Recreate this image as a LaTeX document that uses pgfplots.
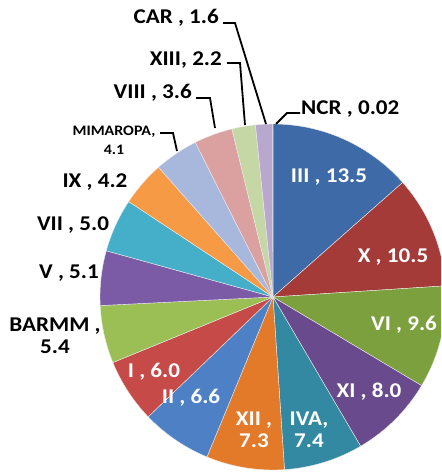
\documentclass[border=0pt]{standalone}
\usepackage{pgfplots}
\pgfplotsset{compat=1.18}
\usepackage{fontspec}
\setmainfont{Carlito}[FakeStretch=1.1]
\definecolor{cIII}{HTML}{3E6AA8}
\definecolor{cX}{HTML}{A43B38}
\definecolor{cVI}{HTML}{7DA03F}
\definecolor{cXI}{HTML}{694A8D}
\definecolor{cIVA}{HTML}{3489A2}
\definecolor{cXII}{HTML}{E27A2A}
\definecolor{cII}{HTML}{4D80C4}
\definecolor{cI}{HTML}{C64A48}
\definecolor{cBARMM}{HTML}{9BBF55}
\definecolor{cV}{HTML}{7C5BA6}
\definecolor{cVII}{HTML}{45AFC9}
\definecolor{cIX}{HTML}{F79A45}
\definecolor{cMIM}{HTML}{A8B8DC}
\definecolor{cVIII}{HTML}{DBA0A0}
\definecolor{cXIII}{HTML}{C6D7A6}
\definecolor{cCAR}{HTML}{B8A8CE}
\definecolor{cNCR}{HTML}{90C8D8}
\tikzset{
  lbl/.style={font=\fontsize{21}{22}\selectfont\bfseries, inner sep=0pt, align=center},
  win/.style={lbl, text=white},
  lead/.style={black, line width=1.8pt},
}
\def\cx{273}\def\cy{297}\def\rr{173}\def\kk{3.5957}
% slice: colour, cumulative start, cumulative end (percent units)
\newcommand\slice[3]{\addplot[fill=#1, draw=white!85!gray, line width=0.4pt, domain=#2:#3, samples=60]
  ({\cx+\rr*cos(90-\kk*x)},{\cy-\rr*sin(90-\kk*x)}) -- (axis cs:\cx,\cy) -- cycle;}
\begin{document}
\begin{tikzpicture}
\begin{axis}[
  width=441pt, height=473pt, scale only axis,
  xmin=0, xmax=441, ymin=0, ymax=473, y dir=reverse,
  hide axis, clip=true,
]
% values: III 13.5, X 10.5, VI 9.6, XI 8.0, IVA 7.4, XII 7.3, II 6.6, I 6.0,
% BARMM 5.4, V 5.1, VII 5.0, IX 4.2, MIMAROPA 4.1, VIII 3.6, XIII 2.2, CAR 1.6, NCR 0.02
\slice{cIII}{0}{13.5}
\slice{cX}{13.5}{24}
\slice{cVI}{24}{33.6}
\slice{cXI}{33.6}{41.6}
\slice{cIVA}{41.6}{49}
\slice{cXII}{49}{56.3}
\slice{cII}{56.3}{62.9}
\slice{cI}{62.9}{68.9}
\slice{cBARMM}{68.9}{74.3}
\slice{cV}{74.3}{79.4}
\slice{cVII}{79.4}{84.4}
\slice{cIX}{84.4}{88.6}
\slice{cMIM}{88.6}{92.7}
\slice{cVIII}{92.7}{96.3}
\slice{cXIII}{96.3}{98.5}
\slice{cCAR}{98.5}{100.1}
\slice{cNCR}{100.1}{100.12}
% inside labels
\node[win] at (axis cs:329,177) {III , 13.5};
\node[win] at (axis cs:393,257) {X , 10.5};
\node[win] at (axis cs:404,325) {VI , 9.6};
\node[win] at (axis cs:369,392) {XI , 8.0};
\node[win] at (axis cs:309,430) {IVA,\\7.4};
\node[win] at (axis cs:254,430) {XII ,\\7.3};
\node[win] at (axis cs:191,398) {II , 6.6};
\node[win] at (axis cs:154,372) {I , 6.0};
% outside labels
\node[lbl] at (axis cs:55,336) {BARMM ,\\5.4};
\node[lbl] at (axis cs:69,273) {V , 5.1};
\node[lbl] at (axis cs:73,225) {VII , 5.0};
\node[lbl] at (axis cs:95,182) {IX , 4.2};
\node[lbl, font=\fontsize{14.5}{19}\selectfont\bfseries] at (axis cs:114,140) {MIMAROPA,\\4.1};
\node[lbl, anchor=east] at (axis cs:192,93) {VIII , 3.6};
\node[lbl, anchor=east] at (axis cs:222,60) {XIII, 2.2};
\node[lbl, anchor=east] at (axis cs:219,18) {CAR , 1.6};
\node[lbl, anchor=west] at (axis cs:301,109) {NCR , 0.02};
% leader lines
\draw[lead] (axis cs:160,133) -- (axis cs:173,133) -- (axis cs:177,151);
\draw[lead] (axis cs:196,98) -- (axis cs:210,98) -- (axis cs:215,128);
\draw[lead] (axis cs:227,63) -- (axis cs:240,63) -- (axis cs:245,125);
\draw[lead] (axis cs:223,23) -- (axis cs:235,23) -- (axis cs:266,124);
\draw[lead] (axis cs:300,113) -- (axis cs:287,113) -- (axis cs:276,124);
\end{axis}
\useasboundingbox (current axis.south west) rectangle (current axis.north east);
\end{tikzpicture}
\end{document}
